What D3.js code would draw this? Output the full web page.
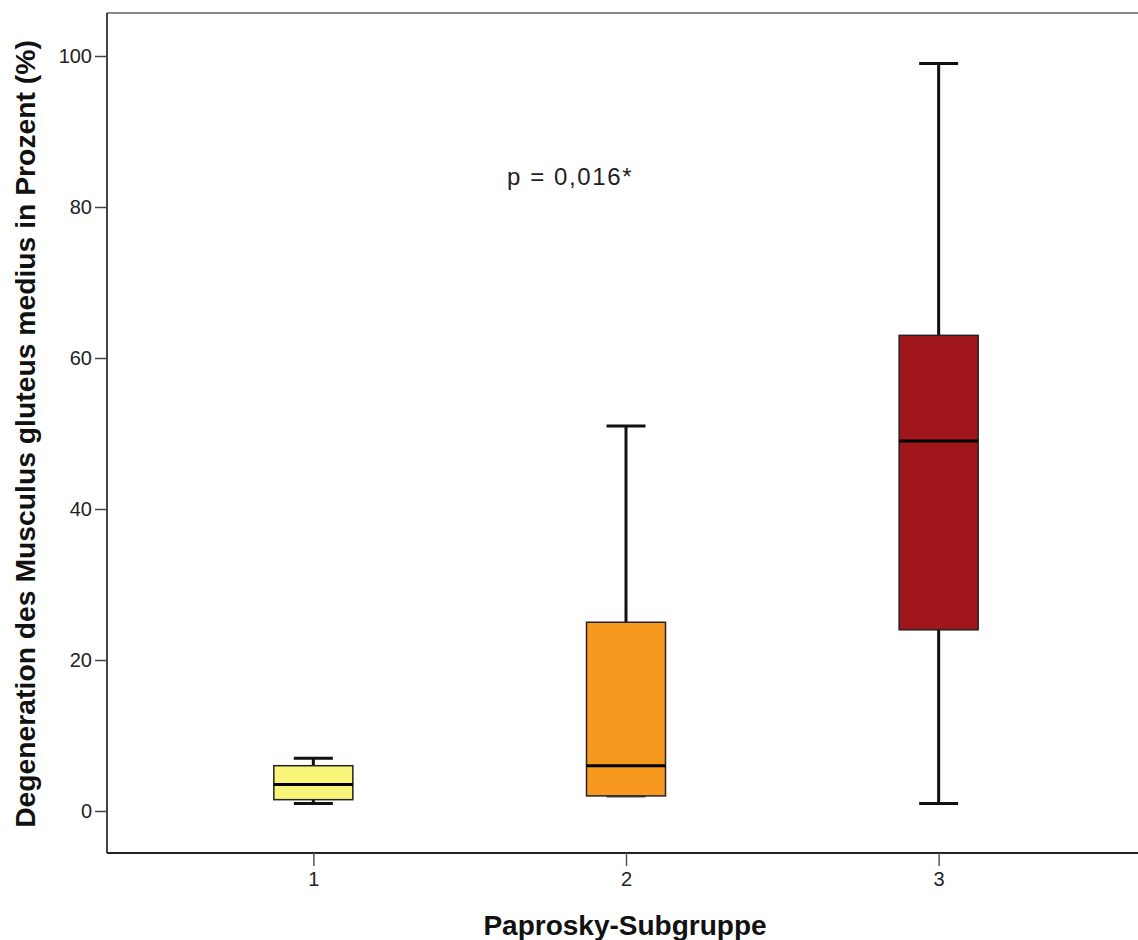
<!DOCTYPE html>
<html><head><meta charset="utf-8">
<script src="https://cdn.jsdelivr.net/npm/d3@7"></script>
<style>body{margin:0;background:#fff;} svg{display:block;}</style>
</head><body>
<svg id="c" width="1138" height="940"></svg>
<script>
const categories = ["1","2","3"];
const whiskerLow  = [1.0, 2.0, 1.0];
const q1          = [1.5, 2.0, 24.0];
const medians     = [3.5, 6.0, 49.0];
const q3          = [6.0, 25.0, 63.0];
const whiskerHigh = [7.0, 51.0, 99.0];
const colors      = ["#F9F57A", "#F7991F", "#A1161A"];
const yTicks      = [0, 20, 40, 60, 80, 100];
const annotation  = "p = 0,016*";
const xTitle = "Paprosky-Subgruppe";
const yTitle = "Degeneration des Musculus gluteus medius in Prozent (%)";

const svg = d3.select("#c");
const L = 107, R = 1145, T = 13, B = 853;
const font = "'Liberation Sans', Arial, sans-serif";

const x = d3.scalePoint().domain(categories).range([L, R]).padding(0.66);
const y = d3.scaleLinear().domain([0, 100]).range([811, 56]);

// frame
svg.append("line").attr("x1", L).attr("x2", R).attr("y1", T).attr("y2", T).attr("stroke", "#888").attr("stroke-width", 2);
svg.append("line").attr("x1", L).attr("x2", L).attr("y1", T).attr("y2", B).attr("stroke", "#444").attr("stroke-width", 2);
svg.append("line").attr("x1", L).attr("x2", R).attr("y1", B).attr("y2", B).attr("stroke", "#222").attr("stroke-width", 2);

// y axis
const yAxis = d3.axisLeft(y).tickValues(yTicks).tickSize(12).tickPadding(3);
const gy = svg.append("g").attr("transform", `translate(${L},0)`).call(yAxis);
gy.select(".domain").remove();
gy.selectAll(".tick line").attr("stroke", "#444").attr("stroke-width", 1.5);
gy.selectAll(".tick text").attr("font-family", font).attr("font-size", 20).attr("fill", "#222");

// x axis
const xAxis = d3.axisBottom(x).tickSize(13).tickPadding(6);
const gx = svg.append("g").attr("transform", `translate(0,${B})`).call(xAxis);
gx.select(".domain").remove();
gx.selectAll(".tick line").attr("stroke", "#555").attr("stroke-width", 1.5);
gx.selectAll(".tick text").attr("font-family", font).attr("font-size", 20).attr("fill", "#222");

// boxes
const boxW = 79, capW = 39;
const data = categories.map((c, i) => ({c, lo: whiskerLow[i], q1: q1[i], med: medians[i], q3: q3[i], hi: whiskerHigh[i], col: colors[i]}));
const g = svg.append("g");
data.forEach(d => {
  const cx = x(d.c);
  g.append("line").attr("x1", cx).attr("x2", cx).attr("y1", y(d.hi)).attr("y2", y(d.q3)).attr("stroke", "#111").attr("stroke-width", 3);
  g.append("line").attr("x1", cx).attr("x2", cx).attr("y1", y(d.q1)).attr("y2", y(d.lo)).attr("stroke", "#111").attr("stroke-width", 3);
  g.append("line").attr("x1", cx - capW/2).attr("x2", cx + capW/2).attr("y1", y(d.hi)).attr("y2", y(d.hi)).attr("stroke", "#111").attr("stroke-width", 3);
  g.append("line").attr("x1", cx - capW/2).attr("x2", cx + capW/2).attr("y1", y(d.lo)).attr("y2", y(d.lo)).attr("stroke", d.lo === d.q1 ? "#555" : "#111").attr("stroke-width", 3);
  g.append("rect").attr("x", cx - boxW/2).attr("width", boxW).attr("y", y(d.q3)).attr("height", y(d.q1) - y(d.q3))
    .attr("fill", d.col).attr("stroke", "#222").attr("stroke-width", 1.5);
  g.append("line").attr("x1", cx - boxW/2).attr("x2", cx + boxW/2).attr("y1", y(d.med)).attr("y2", y(d.med)).attr("stroke", "#000").attr("stroke-width", 3);
});

// annotation
svg.append("text").attr("x", 507).attr("y", 185).attr("font-family", font).attr("font-size", 24).attr("letter-spacing", 1.6).attr("fill", "#222").text(annotation);

// titles
svg.append("text").attr("x", 625).attr("y", 935).attr("text-anchor", "middle").attr("font-family", font).attr("font-weight", "bold").attr("font-size", 28).attr("fill", "#111").text(xTitle);
svg.append("text").attr("transform", "translate(35,434) rotate(-90)").attr("text-anchor", "middle").attr("font-family", font).attr("font-weight", "bold").attr("font-size", 28.3).attr("fill", "#111").text(yTitle);
</script>
</body></html>
